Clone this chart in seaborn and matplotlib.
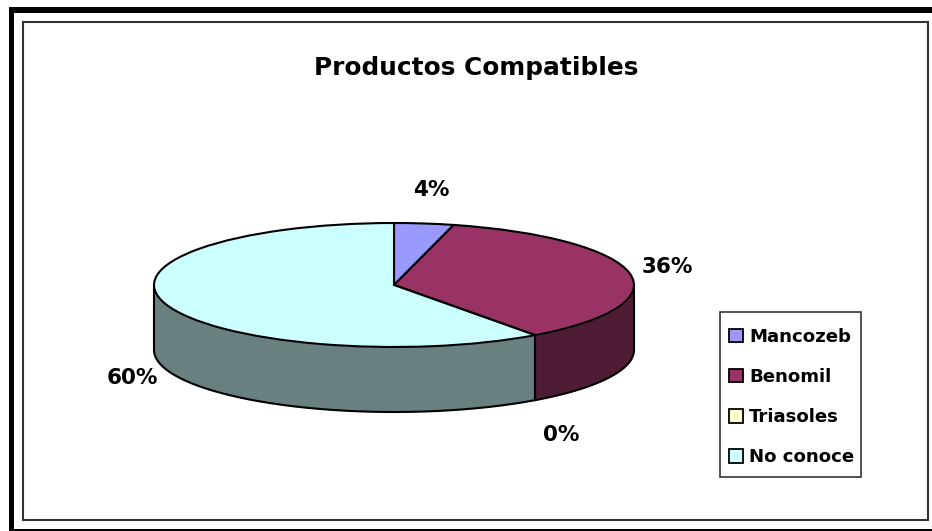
# import libraries
import numpy as np
import seaborn as sns
import matplotlib
matplotlib.use("Agg")
import matplotlib.pyplot as plt
from matplotlib.patches import Patch, Rectangle

# chart data
categories = ["Mancozeb", "Benomil", "Triasoles", "No conoce"]
values = [4, 36, 0, 60]
pct_labels = ["4%", "36%", "0%", "60%"]
title_text = "Productos Compatibles"

# colours, top of the pie and the darker side wall
top_colors = ["#9999FF", "#993366", "#FFFFCC", "#CCFFFF"]
side_colors = ["#5C5C99", "#4F1C35", "#99997A", "#688080"]

W, H = 932, 531
CX, CY, RX, RY, DEPTH = 394, 285, 240, 62, 65  # pixels


def fx(px):
    return px / W


def fy(py):
    return 1 - py / H


def box(x0, y0, x1, y1, **kwargs):
    # rectangle given in picture pixels, drawn on the figure
    rect = Rectangle((fx(x0), fy(y1)), fx(x1 - x0), fy(y0) - fy(y1),
                     transform=fig.transFigure, **kwargs)
    fig.add_artist(rect)
    return rect


sns.set_theme(style="white")
plt.rcParams["font.family"] = ["DejaVu Sans"]
plt.rcParams["font.weight"] = "bold"
plt.rcParams["text.color"] = "black"

fig = plt.figure(figsize=(W / 100, H / 100), dpi=100, facecolor="white")

# outer black frame and thin inner frame
box(9, 7, 14, 531, color="black", linewidth=0, zorder=0)
box(9, 7, 932, 13, color="black", linewidth=0, zorder=0)
box(9, 529, 932, 531, color="black", linewidth=0, zorder=0)
box(23, 22, 928, 520, facecolor="white", edgecolor="#333333", linewidth=1.5, zorder=0)

# axes scaled so the unit pie comes out as a flat ellipse
ax = fig.add_axes([0, 0, 1, 1], facecolor="none", zorder=2)

# side wall, only the front half (below the centre line) is visible
depth = DEPTH / RY
edges = np.cumsum([0] + values) / sum(values) * 360
for i in range(len(values)):
    start, stop = max(edges[i], 90), min(edges[i + 1], 270)
    if stop <= start:
        continue
    ang = np.radians(np.linspace(start, stop, 200))
    x = np.sin(ang)
    y = np.cos(ang)
    ax.fill_between(x, y, y - depth, color=side_colors[i], linewidth=0, zorder=1)
    ax.plot(x, y - depth, color="black", lw=1.5, zorder=2)
    ax.plot([x[0], x[0]], [y[0], y[0] - depth], color="black", lw=1.5, zorder=2)
    ax.plot([x[-1], x[-1]], [y[-1], y[-1] - depth], color="black", lw=1.5, zorder=2)

wedges, _ = ax.pie(values, colors=top_colors, startangle=90, counterclock=False,
                   wedgeprops={"edgecolor": "black", "linewidth": 1.5, "zorder": 3})

ax.set_aspect("auto")
ax.set_xlim(-CX / RX, (W - CX) / RX)
ax.set_ylim((CY - H) / RY, CY / RY)
ax.axis("off")

fig.text(fx(476), fy(68), title_text, ha="center", va="center", fontsize=17.8, color="black", zorder=5)

# percentage labels
label_pos = [(431, 190), (667, 267), (561, 435), (132, 378)]
for lab, (px, py) in zip(pct_labels, label_pos):
    fig.text(fx(px), fy(py), lab, ha="center", va="center", fontsize=15.5, color="black", zorder=5)

# legend, the box is drawn apart so it can sit exactly where the reference has it
box(720, 312, 861, 477, facecolor="white", edgecolor="#333333", linewidth=1.2, zorder=3)
handles = [Patch(facecolor=c, edgecolor="black", linewidth=1.3) for c in top_colors]
leg = fig.legend(handles, categories, loc="center left",
                 bbox_to_anchor=(fx(720), fy(397)), bbox_transform=fig.transFigure,
                 fontsize=13.1, frameon=False, handlelength=0.78, handleheight=0.78,
                 handletextpad=0.33, labelspacing=1.22, borderpad=0, borderaxespad=0.5)
leg.set_zorder(4)
for txt in leg.get_texts():
    txt.set_color("black")

fig.savefig("out.png", dpi=100)
